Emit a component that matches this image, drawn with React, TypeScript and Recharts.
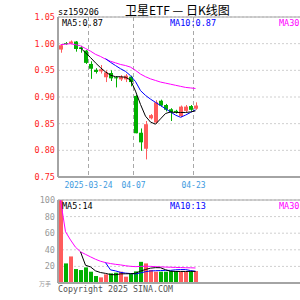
// Daily K-line chart for 卫星ETF (sz159206): candles + MA5/10/30 on top,
// volume bars + volume MAs below. Two stacked ComposedCharts share the
// same numeric x domain so the dashed date lines line up in both panels.

import React from "react";
import {
  ComposedChart,
  Bar,
  Line,
  XAxis,
  YAxis,
  CartesianGrid,
  ReferenceLine,
} from "recharts";

const dates = [
  "2025-03-14", "2025-03-17", "2025-03-18", "2025-03-19", "2025-03-20",
  "2025-03-21", "2025-03-24", "2025-03-25", "2025-03-26", "2025-03-27",
  "2025-03-28", "2025-03-31", "2025-04-01", "2025-04-02", "2025-04-03",
  "2025-04-07", "2025-04-08", "2025-04-09", "2025-04-10", "2025-04-11",
  "2025-04-14", "2025-04-15", "2025-04-16", "2025-04-17", "2025-04-18",
  "2025-04-21", "2025-04-22", "2025-04-23",
];

const openPx = [
  0.989, 1.001, 1.0, 1.004, 0.993, 0.987, 0.962, 0.951, 0.948, 0.937,
  0.945, 0.937, 0.933, 0.933, 0.938, 0.902, 0.833, 0.803, 0.86, 0.852,
  0.893, 0.885, 0.877, 0.874, 0.864, 0.874, 0.883, 0.878,
];
const highPx = [
  0.999, 1.003, 1.006, 1.005, 0.996, 0.988, 0.967, 0.954, 0.96, 0.95,
  0.95, 0.939, 0.941, 0.943, 0.94, 0.904, 0.841, 0.855, 0.868, 0.894,
  0.895, 0.887, 0.879, 0.876, 0.884, 0.885, 0.885, 0.89,
];
const lowPx = [
  0.983, 0.998, 0.999, 0.985, 0.983, 0.962, 0.934, 0.944, 0.944, 0.928,
  0.93, 0.918, 0.93, 0.928, 0.92, 0.832, 0.799, 0.783, 0.858, 0.85,
  0.882, 0.873, 0.855, 0.869, 0.862, 0.872, 0.874, 0.876,
];
const closePx = [
  0.997, 1.0, 1.004, 0.99, 0.99, 0.964, 0.953, 0.947, 0.952, 0.946,
  0.935, 0.935, 0.938, 0.94, 0.928, 0.832, 0.815, 0.849, 0.866, 0.89,
  0.884, 0.876, 0.871, 0.871, 0.882, 0.882, 0.876, 0.884,
];

const ma5Px = [
  null, null, null, null, 0.992, 0.983, 0.974, 0.964, 0.955, 0.947,
  0.941, 0.938, 0.938, 0.937, 0.932, 0.911, 0.886, 0.864, 0.853, 0.849,
  0.859, 0.869, 0.872, 0.871, 0.871, 0.871, 0.872, 0.874,
];
const ma10Px = [
  null, null, null, null, null, null, null, null, null, 0.972,
  0.965, 0.959, 0.953, 0.948, 0.94, 0.929, 0.912, 0.903, 0.896, 0.89,
  0.884, 0.878, 0.872, 0.866, 0.862, 0.866, 0.871, 0.876,
];
const ma30Px = [
  0.998, 0.999, 1.0, 0.998, 0.996, 0.991, 0.986, 0.98, 0.976, 0.971,
  0.967, 0.964, 0.961, 0.959, 0.956, 0.95, 0.943, 0.938, 0.934, 0.931,
  0.928, 0.926, 0.924, 0.922, 0.92, 0.918, 0.917, 0.916,
];

// volume in 万手
const volume = [
  100, 23.6, 32, 16.8, 15.6, 18.8, 13.6, 8.4, 6.8, 10.4,
  11.6, 12.4, 13.6, 7.6, 10.8, 14, 25.5, 23.6, 15.6, 13.6,
  13.6, 13.6, 14.4, 14.4, 13.6, 13.6, 14, 14.4,
];
const ma5Vol = [
  null, null, null, null, 37.6, 21.4, 19.4, 14.6, 12.6, 11.6,
  10.2, 9.9, 11.0, 11.1, 11.2, 11.7, 14.3, 16.3, 17.9, 18.5,
  18.4, 16.0, 14.2, 13.9, 13.9, 13.9, 14.0, 14.0,
];
const ma10Vol = [
  null, null, null, null, null, null, null, null, null, 24.6,
  15.8, 14.6, 12.8, 11.9, 11.4, 10.9, 12.1, 13.6, 14.5, 14.8,
  15.0, 15.2, 15.2, 15.9, 16.2, 16.2, 15.0, 14.1,
];
const ma30Vol = [
  100, 61.8, 51.9, 43.1, 37.6, 34.5, 31.5, 28.6, 26.2, 24.6,
  23.4, 22.5, 21.8, 20.8, 20.1, 19.7, 20.0, 20.2, 20.0, 19.7,
  19.4, 19.2, 19.0, 18.8, 18.6, 18.4, 18.3, 18.1,
];

const priceTicks = [0.75, 0.8, 0.85, 0.9, 0.95, 1.0, 1.05];
const volumeTicks = [0, 20, 40, 60, 80, 100];
const axisDates = ["2025-03-24", "2025-04-07", "2025-04-23"];
const axisLabels = ["2025-03-24", "04-07", "04-23"];

const UP = "#ff5c5c";
const DOWN = "#00b000";
const BORDER = "#a4a4a4";
const MONO = "'DejaVu Sans Mono', monospace";
const CJK = "'Noto Sans CJK SC', sans-serif";

// 50 slots of 5px; the chart only fills the first 28
const X_DOMAIN: [number, number] = [-0.5, 49.5];
// date lines sit just left of the candle
const xTicks = axisDates.map((d) => dates.indexOf(d) - 0.4);

const rows = dates.map((date, i) => ({
  idx: i,
  date,
  open: openPx[i],
  high: highPx[i],
  low: lowPx[i],
  close: closePx[i],
  ma5: ma5Px[i],
  ma10: ma10Px[i],
  ma30: ma30Px[i],
  volume: volume[i],
  vma5: ma5Vol[i],
  vma10: ma10Vol[i],
  vma30: ma30Vol[i],
}));

function Candle(props: any) {
  const { x, y, width, height, payload } = props;
  const top = Math.min(y, y + height);
  const bottom = Math.max(y, y + height);
  const { open, close, high, low } = payload;
  const span = high - low || 1;
  const py = (v: number) => top + ((high - v) / span) * (bottom - top);
  const color = close >= open ? UP : DOWN;
  const cx = Math.floor(x + width / 2);
  const bTop = py(Math.max(open, close));
  const bBot = py(Math.min(open, close));
  return (
    <g>
      <line x1={cx + 0.5} x2={cx + 0.5} y1={top} y2={bottom} stroke={color} strokeWidth={1} />
      <rect x={cx - 2} y={bTop} width={4} height={Math.max(1, bBot - bTop)} fill={color} />
    </g>
  );
}

function VolBar(props: any) {
  const { x, y, width, height, payload } = props;
  const cx = Math.floor(x + width / 2);
  const color = payload.close >= payload.open ? UP : DOWN;
  return <rect x={cx - 2} y={y} width={4} height={height} fill={color} />;
}

function VolTick(props: any) {
  const { x, y, payload } = props;
  if (payload.value === 0) {
    return (
      <text x={x - 4} y={y + 3} textAnchor="end" fill="#999" fontSize={6} fontFamily={CJK}>
        万手
      </text>
    );
  }
  return (
    <text x={x} y={y} dy="0.355em" textAnchor="end" fill="#999" fontSize={8.5} fontFamily={MONO}>
      {payload.value}
    </text>
  );
}

export default function App() {
  return (
    <div
      style={{
        position: "absolute",
        left: 0,
        top: 0,
        width: 300,
        height: 300,
        overflow: "hidden",
        background: "#fff",
      }}
    >
      <div style={{ position: "absolute", left: 0, top: 0 }}>
        <ComposedChart width={308} height={195} data={rows} margin={{ top: 17, right: 0, bottom: 0, left: 0 }}>
          <CartesianGrid vertical={false} stroke="#cfcfcf" strokeDasharray="2 2" />
          <CartesianGrid horizontal={false} stroke="#a8a8a8" strokeDasharray="4 3" />
          <XAxis
            type="number"
            dataKey="idx"
            domain={X_DOMAIN}
            ticks={xTicks}
            interval={0}
            tickFormatter={(v) => axisLabels[xTicks.indexOf(v)] ?? ""}
            tick={{ fill: "#3d9ae0", fontSize: 8, fontFamily: MONO }}
            tickLine={false}
            tickSize={0}
            tickMargin={5}
            axisLine={{ stroke: BORDER, strokeWidth: 2 }}
            height={18}
          />
          <YAxis
            domain={[0.75, 1.05]}
            ticks={priceTicks}
            interval={0}
            tickFormatter={(v) => Number(v).toFixed(2)}
            tick={{ fill: "#ff2222", fontSize: 8.5, fontFamily: MONO }}
            tickLine={false}
            tickSize={0}
            tickMargin={3}
            axisLine={{ stroke: BORDER, strokeWidth: 2 }}
            width={58}
            allowDataOverflow
          />
          <ReferenceLine y={1.05} stroke={BORDER} />
          <Bar
            dataKey={(d: any) => [d.low, d.high]}
            barSize={4}
            shape={(p: any) => <Candle {...p} />}
            isAnimationActive={false}
          />
          <Line dataKey="ma30" stroke="#ff00ff" strokeWidth={1} dot={false} isAnimationActive={false} />
          <Line dataKey="ma10" stroke="#0000ff" strokeWidth={1} dot={false} isAnimationActive={false} />
          <Line dataKey="ma5" stroke="#000000" strokeWidth={1} dot={false} isAnimationActive={false} />
        </ComposedChart>
      </div>

      <div style={{ position: "absolute", left: 0, top: 0 }}>
        <ComposedChart width={308} height={300} data={rows} margin={{ top: 200, right: 0, bottom: 0, left: 0 }}>
          <CartesianGrid vertical={false} stroke="#cfcfcf" strokeDasharray="2 2" />
          <CartesianGrid horizontal={false} stroke="#a8a8a8" strokeDasharray="4 3" />
          <XAxis
            type="number"
            dataKey="idx"
            domain={X_DOMAIN}
            ticks={xTicks}
            interval={0}
            tick={false}
            tickLine={false}
            axisLine={{ stroke: BORDER, strokeWidth: 2 }}
            height={17}
          />
          <YAxis
            domain={[0, 100]}
            ticks={volumeTicks}
            interval={0}
            tick={<VolTick />}
            tickLine={false}
            tickSize={0}
            tickMargin={3}
            axisLine={{ stroke: BORDER, strokeWidth: 2 }}
            width={58}
            allowDataOverflow
          />
          <ReferenceLine y={100} stroke={BORDER} />
          <Bar dataKey="volume" barSize={4} shape={(p: any) => <VolBar {...p} />} isAnimationActive={false} />
          <Line dataKey="vma30" stroke="#ff00ff" strokeWidth={1} dot={false} isAnimationActive={false} />
          <Line dataKey="vma10" stroke="#0000ff" strokeWidth={1} dot={false} isAnimationActive={false} />
          <Line dataKey="vma5" stroke="#000000" strokeWidth={1} dot={false} isAnimationActive={false} />
        </ComposedChart>
      </div>

      <svg
        width={300}
        height={300}
        style={{ position: "absolute", left: 0, top: 0, pointerEvents: "none" }}
      >
        <text x={58} y={14.5} fontSize={8.5} fontFamily={MONO} fill="#000">sz159206</text>
        <text x={125} y={15} fontSize={12} fontFamily={CJK} fill="#000">卫星ETF — 日K线图</text>
        <text x={62} y={25.5} fontSize={8.5} fontFamily={MONO} fill="#000">MA5:0.87</text>
        <text x={170} y={25.5} fontSize={8.5} fontFamily={MONO} fill="#0000ff">MA10:0.87</text>
        <text x={279} y={25.5} fontSize={8.5} fontFamily={MONO} fill="#ff00ff">MA30</text>
        <text x={62} y={208.5} fontSize={8.5} fontFamily={MONO} fill="#000">MA5:14</text>
        <text x={170} y={208.5} fontSize={8.5} fontFamily={MONO} fill="#0000ff">MA10:13</text>
        <text x={279} y={208.5} fontSize={8.5} fontFamily={MONO} fill="#ff00ff">MA30</text>
        <text x={58} y={291.5} fontSize={8.3} fontFamily={MONO} fill="#555">Copyright 2025 SINA.COM</text>
      </svg>
    </div>
  );
}
